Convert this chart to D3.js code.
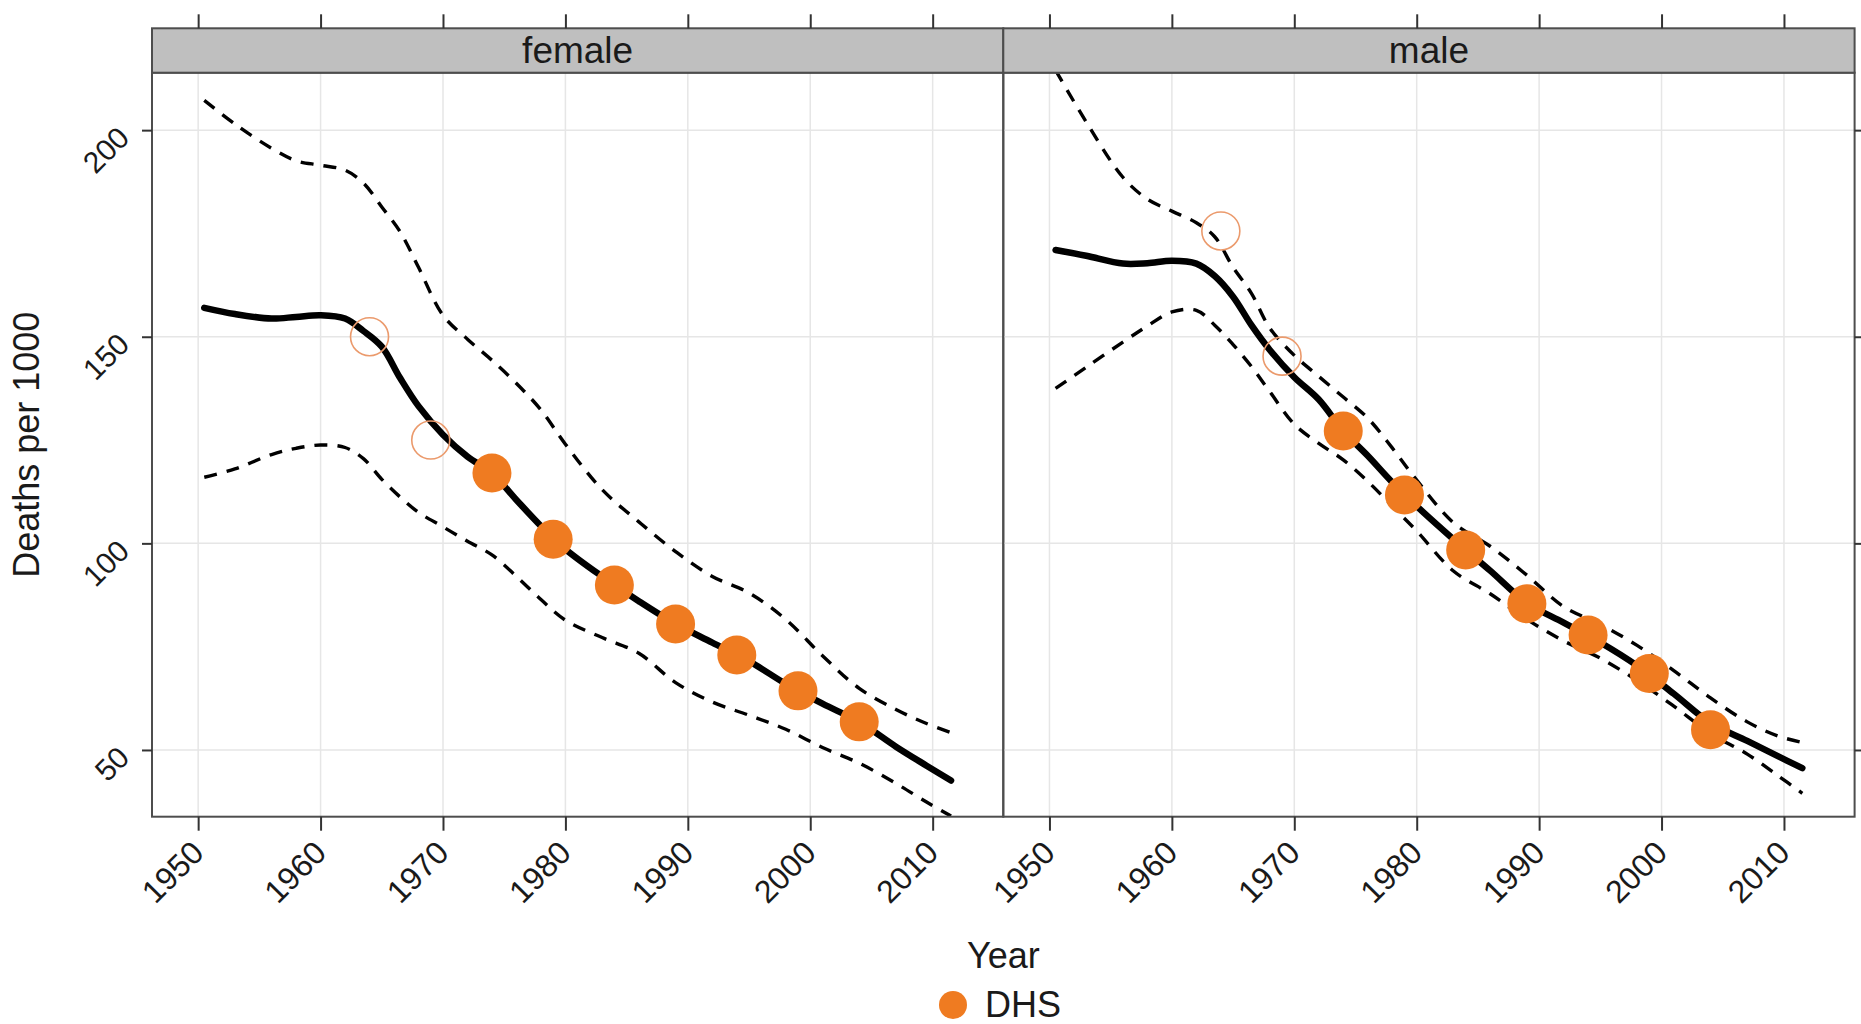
<!DOCTYPE html>
<html>
<head>
<meta charset="utf-8">
<script src="https://cdn.jsdelivr.net/npm/d3@7"></script>
<style>
  body { margin: 0; background: #fff; }
  text { font-family: "Liberation Sans", Arial, sans-serif; fill: #1a1a1a; }
</style>
</head>
<body>
<div id="chart"></div>
<script>
var years = [1950.5, 1953, 1956, 1958, 1960, 1962, 1963.5, 1965, 1966.5, 1968, 1970, 1972, 1974, 1976,
             1978, 1980, 1983, 1986, 1989, 1992, 1995, 1998, 2001, 2004, 2007, 2009.5, 2011.5];

var femaleFit   = [157.0, 155.5, 154.4, 154.8, 155.2, 154.4, 151.4, 147.6, 140.0, 133.2, 126.3, 121.0, 117.0, 110.5,
                   104.2, 98.6, 92.0, 86.0, 80.5, 76.0, 71.5, 66.0, 61.2, 56.8, 50.8, 46.2, 42.6];
var femaleUpper = [207.2, 201.5, 195.6, 192.6, 191.5, 190.3, 187.2, 181.4, 175.4, 166.8, 155.2, 149.4, 144.3, 138.7,
                   132.3, 124.0, 113.0, 105.2, 98.0, 92.0, 88.0, 81.6, 72.8, 64.9, 59.8, 56.4, 54.2];
var femaleLower = [116.0, 118.0, 121.5, 123.0, 123.8, 123.2, 120.5, 115.5, 111.2, 107.5, 104.0, 100.5, 97.2, 92.0,
                   86.4, 81.4, 77.2, 73.4, 66.3, 61.6, 58.4, 55.0, 50.6, 46.8, 41.9, 37.4, 34.0];

var maleFit   = [171.0, 169.6, 167.7, 167.8, 168.4, 167.7, 164.7, 159.7, 152.8, 146.8, 140.2, 134.8, 127.2, 121.2,
                 114.8, 109.0, 101.0, 93.4, 85.6, 80.8, 76.0, 70.4, 63.6, 56.5, 52.2, 48.5, 45.6];
var maleUpper = [214.5, 202.0, 188.6, 183.3, 180.4, 177.6, 174.2, 166.8, 160.5, 152.1, 145.5, 140.4, 135.4, 130.3,
                 123.1, 115.3, 105.0, 99.3, 92.3, 84.7, 80.4, 75.3, 69.2, 62.6, 56.8, 53.4, 51.8];
var maleLower = [137.5, 142.6, 148.7, 152.6, 156.0, 156.4, 152.8, 148.1, 142.8, 136.7, 128.8, 124.2, 120.2, 115.0,
                 109.0, 103.0, 93.3, 87.8, 81.6, 76.4, 72.2, 66.8, 60.6, 54.0, 49.0, 43.8, 39.5];

// DHS estimates (first two are shown hollow)
var dhsYears  = [1964, 1969, 1974, 1979, 1984, 1989, 1994, 1999, 2004];
var femaleDHS = [150.0, 125.0, 117.0, 101.0, 89.9, 80.5, 73.0, 64.3, 56.8];
var maleDHS   = [175.6, 145.3, 127.2, 111.7, 98.4, 85.4, 77.8, 68.5, 54.9];
var dhsUsed   = [false, false, true, true, true, true, true, true, true];

var panelNames = ["female", "male"];
var xTicks = [1950, 1960, 1970, 1980, 1990, 2000, 2010];
var yTicks = [50, 100, 150, 200];

var orange = "#ef7b21";

(function() {
    var width = 1861, height = 1024;
    var panelTop = 72.7, panelBottom = 816.7, stripTop = 28.3;
    var panelW = 851.3, panelH = panelBottom - panelTop;
    var lefts = [152, 152 + panelW];

    var svg = d3.select("#chart")
        .append("svg")
        .attr("width", width)
        .attr("height", height)

    var x = d3.scaleLinear().domain([1946.23, 2015.77]).range([0, panelW])
    var y = d3.scaleLinear().domain([33.85, 213.9]).range([panelH, 0])

    var line = d3.line()
        .x(function(d) { return x(d[0]) })
        .y(function(d) { return y(d[1]) })
        .curve(d3.curveCatmullRom.alpha(0.5))

    var series = [
        { fit: femaleFit, upper: femaleUpper, lower: femaleLower, dhs: femaleDHS },
        { fit: maleFit, upper: maleUpper, lower: maleLower, dhs: maleDHS }
    ]

    panelNames.forEach(function(name, i) {
        var s = series[i]
        var g = svg.append("g").attr("transform", "translate(" + lefts[i] + "," + panelTop + ")")

        g.append("clipPath").attr("id", "clip" + i)
            .append("rect").attr("width", panelW).attr("height", panelH)

        // grid
        g.selectAll(".vgrid").data(xTicks).enter().append("line")
            .attr("x1", function(d) { return x(d) }).attr("x2", function(d) { return x(d) })
            .attr("y1", 0).attr("y2", panelH)
            .attr("stroke", "#e6e6e6").attr("stroke-width", 1.5)
        g.selectAll(".hgrid").data(yTicks).enter().append("line")
            .attr("y1", function(d) { return y(d) }).attr("y2", function(d) { return y(d) })
            .attr("x1", 0).attr("x2", panelW)
            .attr("stroke", "#e6e6e6").attr("stroke-width", 1.5)

        var plot = g.append("g").attr("clip-path", "url(#clip" + i + ")")

        // confidence band edges
        ;[s.upper, s.lower].forEach(function(vals) {
            plot.append("path")
                .datum(years.map(function(yr, k) { return [yr, vals[k]] }))
                .attr("d", line)
                .attr("fill", "none")
                .attr("stroke", "#000")
                .attr("stroke-width", 3.4)
                .attr("stroke-dasharray", "13,10")
        })

        plot.append("path")
            .datum(years.map(function(yr, k) { return [yr, s.fit[k]] }))
            .attr("d", line)
            .attr("fill", "none")
            .attr("stroke", "#000")
            .attr("stroke-width", 6.5)
            .attr("stroke-linecap", "round")

        plot.selectAll(".dhs")
            .data(dhsYears)
            .enter()
            .append("circle")
            .attr("cx", function(d) { return x(d) })
            .attr("cy", function(d, k) { return y(s.dhs[k]) })
            .attr("r", function(d, k) { return dhsUsed[k] ? 19.5 : 19 })
            .style("fill", function(d, k) { return dhsUsed[k] ? orange : "none" })
            .style("stroke", function(d, k) { return dhsUsed[k] ? "none" : "#eb9a6c" })
            .style("stroke-width", 1.6)

        // border
        g.append("rect")
            .attr("width", panelW).attr("height", panelH)
            .attr("fill", "none").attr("stroke", "#4d4d4d").attr("stroke-width", 2)

        // strip
        g.append("rect")
            .attr("y", stripTop - panelTop).attr("width", panelW).attr("height", panelTop - stripTop)
            .attr("fill", "#bfbfbf").attr("stroke", "#4d4d4d").attr("stroke-width", 2)
        g.append("text")
            .attr("x", panelW / 2).attr("y", 63 - panelTop)
            .attr("text-anchor", "middle")
            .style("font-size", "37px")
            .text(name)

        // top ticks (no labels)
        g.append("g")
            .attr("transform", "translate(0," + (stripTop - panelTop) + ")")
            .call(d3.axisTop(x).tickValues(xTicks).tickSize(14).tickFormat(""))
            .call(function(a) { a.select(".domain").remove() })
            .selectAll("line").attr("stroke", "#333").attr("stroke-width", 2)

        // bottom ticks with rotated labels
        var bx = g.append("g")
            .attr("transform", "translate(0," + panelH + ")")
            .call(d3.axisBottom(x).tickValues(xTicks).tickSize(14).tickFormat(d3.format("d")))
        bx.select(".domain").remove()
        bx.selectAll("line").attr("stroke", "#333").attr("stroke-width", 2)
        bx.selectAll("text")
            .attr("x", 0).attr("y", 0).attr("dy", 0)
            .attr("transform", "translate(7,38) rotate(-45)")
            .attr("text-anchor", "end")
            .style("font-size", "32px")
            .style("font-family", "'Liberation Sans', Arial, sans-serif")
            .attr("fill", "#1a1a1a")

        if (i === 0) {
            var ly = g.append("g")
                .call(d3.axisLeft(y).tickValues(yTicks).tickSize(10))
            ly.select(".domain").remove()
            ly.selectAll("line").attr("stroke", "#333").attr("stroke-width", 2)
            ly.selectAll("text")
                .attr("x", 0).attr("dy", 0)
                .attr("transform", "translate(-21,9) rotate(-45)")
                .attr("text-anchor", "end")
                .style("font-size", "30px")
                .style("font-family", "'Liberation Sans', Arial, sans-serif")
                .attr("fill", "#1a1a1a")
        } else {
            g.append("g")
                .attr("transform", "translate(" + panelW + ",0)")
                .call(d3.axisRight(y).tickValues(yTicks).tickSize(10).tickFormat(""))
                .call(function(a) { a.select(".domain").remove() })
                .selectAll("line").attr("stroke", "#333").attr("stroke-width", 2)
        }
    })

    // axis titles
    svg.append("text")
        .attr("x", lefts[1]).attr("y", 968)
        .attr("text-anchor", "middle")
        .style("font-size", "36px")
        .text("Year")

    svg.append("text")
        .attr("transform", "translate(39," + ((panelTop + panelBottom) / 2) + ") rotate(-90)")
        .attr("text-anchor", "middle")
        .style("font-size", "36px")
        .text("Deaths per 1000")

    // legend
    svg.append("circle")
        .attr("cx", 953).attr("cy", 1005).attr("r", 14)
        .style("fill", orange)
    svg.append("text")
        .attr("x", 985).attr("y", 1017)
        .style("font-size", "36px")
        .text("DHS")
})();
</script>
</body>
</html>
